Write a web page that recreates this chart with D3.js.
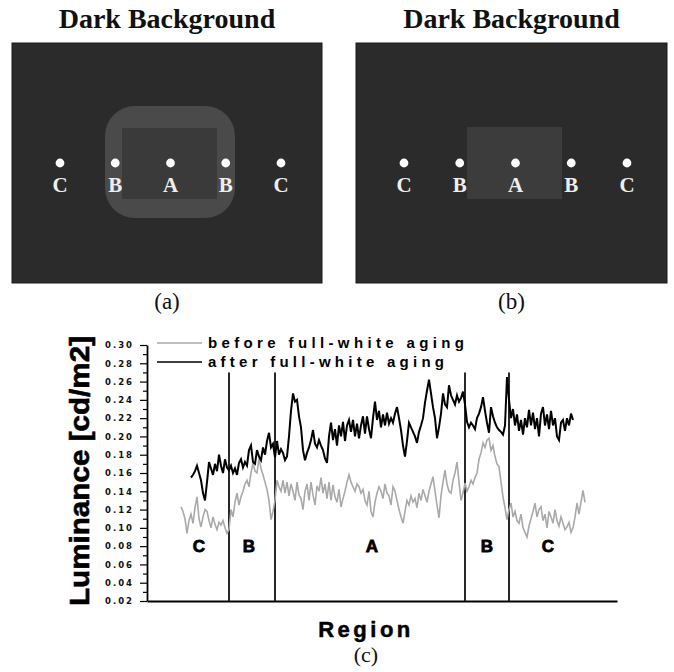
<!DOCTYPE html>
<html>
<head>
<meta charset="utf-8">
<script src="https://cdn.jsdelivr.net/npm/d3@7"></script>
<style>
  html, body { margin: 0; padding: 0; background: #fff; }
  svg { display: block; }
</style>
</head>
<body>
<svg id="fig" width="674" height="672"></svg>
<script>
// ---- data ----
const spotLabels = ["C", "B", "A", "B", "C"];
const regionNames = ["C", "B", "A", "B", "C"];
// region centres and borders in sample-position units (one unit = one sample step)
const regionCenters = [26, 51, 112.5, 170, 200.5];
const regionBorders = [41, 64, 159, 181];
const yTicks = [0.30, 0.28, 0.26, 0.24, 0.22, 0.20, 0.18, 0.16, 0.14, 0.12, 0.10, 0.08, 0.06, 0.04, 0.02];
const seriesNames = ["before full-white aging", "after full-white aging"];

// luminance [cd/m2] along the scan line, one value per sample position
const afterStart = 22;
const afterValues = [
  0.155, 0.158, 0.162, 0.168, 0.160, 0.152, 0.138, 0.130, 0.150, 0.172,
  0.165, 0.158, 0.170, 0.162, 0.180, 0.168, 0.160, 0.175, 0.166, 0.163,
  0.168, 0.160, 0.165, 0.158, 0.171, 0.175, 0.166, 0.172, 0.168, 0.185,
  0.190, 0.172, 0.170, 0.185, 0.178, 0.174, 0.188, 0.180, 0.195, 0.204,
  0.188, 0.192, 0.177, 0.195, 0.180, 0.186, 0.182, 0.174, 0.178, 0.200,
  0.228, 0.247, 0.238, 0.240, 0.222, 0.210, 0.185, 0.174, 0.182, 0.188,
  0.196, 0.207, 0.192, 0.188, 0.196, 0.190, 0.185, 0.176, 0.171, 0.200,
  0.215, 0.196, 0.208, 0.190, 0.212, 0.200, 0.216, 0.195, 0.212, 0.218,
  0.205, 0.218, 0.200, 0.214, 0.198, 0.212, 0.222, 0.203, 0.222, 0.208,
  0.198, 0.220, 0.238, 0.218, 0.228, 0.210, 0.224, 0.212, 0.226, 0.214,
  0.220, 0.215, 0.225, 0.232, 0.220, 0.207, 0.190, 0.178, 0.195, 0.215,
  0.210, 0.205, 0.200, 0.193, 0.205, 0.212, 0.220, 0.237, 0.250, 0.262,
  0.247, 0.232, 0.220, 0.198, 0.210, 0.225, 0.247, 0.235, 0.232, 0.256,
  0.245, 0.240, 0.235, 0.245, 0.238, 0.242, 0.249, 0.235, 0.216, 0.210,
  0.215, 0.212, 0.208, 0.220, 0.225, 0.232, 0.243, 0.228, 0.215, 0.204,
  0.232, 0.222, 0.215, 0.210, 0.207, 0.205, 0.202, 0.212, 0.265, 0.240,
  0.220, 0.230, 0.212, 0.224, 0.206, 0.218, 0.202, 0.220, 0.210, 0.229,
  0.212, 0.226, 0.208, 0.220, 0.200, 0.225, 0.232, 0.212, 0.224, 0.208,
  0.228, 0.212, 0.220, 0.200, 0.196, 0.215, 0.218, 0.206, 0.220, 0.212,
  0.225, 0.218
];
const beforeStart = 17;
const beforeValues = [
  0.123, 0.118, 0.110, 0.094, 0.108, 0.115, 0.105, 0.122, 0.134, 0.110,
  0.101, 0.112, 0.120, 0.118, 0.108, 0.100, 0.112, 0.104, 0.098, 0.106,
  0.103, 0.108, 0.100, 0.094, 0.098, 0.120, 0.112, 0.128, 0.138, 0.125,
  0.134, 0.140, 0.148, 0.152, 0.145, 0.160, 0.171, 0.162, 0.160, 0.176,
  0.165, 0.158, 0.150, 0.142, 0.130, 0.109, 0.118, 0.130, 0.152, 0.145,
  0.140, 0.152, 0.138, 0.150, 0.135, 0.148, 0.140, 0.130, 0.150, 0.136,
  0.132, 0.120, 0.140, 0.148, 0.130, 0.150, 0.136, 0.125, 0.146, 0.140,
  0.155, 0.138, 0.148, 0.132, 0.150, 0.130, 0.147, 0.134, 0.128, 0.142,
  0.123, 0.132, 0.140, 0.150, 0.158, 0.150, 0.145, 0.140, 0.148, 0.145,
  0.138, 0.142, 0.130, 0.125, 0.140, 0.118, 0.112, 0.128, 0.138, 0.145,
  0.140, 0.132, 0.148, 0.138, 0.135, 0.125, 0.145, 0.140, 0.130, 0.120,
  0.112, 0.105, 0.118, 0.130, 0.125, 0.135, 0.128, 0.132, 0.122, 0.138,
  0.130, 0.142, 0.135, 0.128, 0.140, 0.148, 0.156, 0.140, 0.125, 0.111,
  0.135, 0.150, 0.163, 0.148, 0.140, 0.138, 0.152, 0.160, 0.172, 0.150,
  0.130, 0.138, 0.149, 0.140, 0.145, 0.152, 0.148, 0.155, 0.160, 0.175,
  0.182, 0.193, 0.188, 0.196, 0.198, 0.185, 0.190, 0.178, 0.170, 0.167,
  0.150, 0.134, 0.122, 0.109, 0.120, 0.127, 0.112, 0.118, 0.108, 0.105,
  0.115, 0.100, 0.095, 0.090, 0.102, 0.110, 0.118, 0.127, 0.112, 0.120,
  0.123, 0.108, 0.115, 0.100, 0.118, 0.112, 0.105, 0.120, 0.108, 0.102,
  0.112, 0.105, 0.098, 0.101, 0.106, 0.095, 0.100, 0.112, 0.127, 0.115,
  0.128, 0.141, 0.128
];

// ---- drawing ----
const svg = d3.select("#fig");
const serif = "'Liberation Serif', 'Times New Roman', serif";
const sans = "'Liberation Sans', Arial, sans-serif";

// Panels (a) and (b): measurement spots on a dark screen
const panels = [
  { tag: "(a)", x0: 12, x1: 322, spots: [60, 281], halo: true, box: [122, 128, 217, 199] },
  { tag: "(b)", x0: 356, x1: 667, spots: [404, 627], halo: false, box: [467, 127, 562, 199] }
];
const panelTop = 43, panelBottom = 283, spotY = 163;

panels.forEach(p => {
  const g = svg.append("g");
  const cx = (p.x0 + p.x1) / 2;
  g.append("text").attr("x", cx).attr("y", 28).attr("text-anchor", "middle")
    .attr("font-family", serif).attr("font-weight", "bold").attr("font-size", 28)
    .attr("fill", "#111").text("Dark Background");
  g.append("rect").attr("x", p.x0).attr("y", panelTop)
    .attr("width", p.x1 - p.x0).attr("height", panelBottom - panelTop)
    .attr("fill", "#2b2b2b").attr("stroke", "#1a1a1a").attr("stroke-width", 1);
  if (p.halo) {
    g.append("rect").attr("x", 105).attr("y", 106).attr("width", 130).attr("height", 112)
      .attr("rx", 30).attr("ry", 30).attr("fill", "#4a4a4a");
  }
  const [bx0, by0, bx1, by1] = p.box;
  g.append("rect").attr("x", bx0).attr("y", by0).attr("width", bx1 - bx0).attr("height", by1 - by0)
    .attr("fill", p.halo ? "#3a3a3a" : "#3c3c3c");
  const sx = d3.scalePoint().domain(d3.range(spotLabels.length)).range(p.spots);
  spotLabels.forEach((lab, i) => {
    g.append("circle").attr("cx", sx(i)).attr("cy", spotY).attr("r", 4.4).attr("fill", "#fff");
    g.append("text").attr("x", sx(i)).attr("y", 192).attr("text-anchor", "middle")
      .attr("font-family", serif).attr("font-weight", "bold").attr("font-size", 21)
      .attr("fill", "#eee").text(lab);
  });
  g.append("text").attr("x", cx).attr("y", 309).attr("text-anchor", "middle")
    .attr("font-family", serif).attr("font-size", 23).attr("fill", "#111").text(p.tag);
});

// Panel (c): luminance profile
const x = d3.scaleLinear().domain([0, 235]).range([147, 617]);
const y = d3.scaleLinear().domain([0.02, 0.30]).range([601, 345]);

const chart = svg.append("g");

// minor ticks halfway between labelled ticks
const minorTicks = d3.range(0.03, 0.30, 0.02).map(v => +v.toFixed(2));
chart.append("g").attr("transform", `translate(${x(0)},0)`)
  .call(d3.axisLeft(y).tickValues(minorTicks).tickSize(4).tickSizeOuter(0).tickFormat(""))
  .call(g => g.select(".domain").remove())
  .call(g => g.selectAll("line").attr("stroke", "#000").attr("stroke-width", 1.2));

chart.append("g").attr("transform", `translate(${x(0)},0)`)
  .call(d3.axisLeft(y).tickValues(yTicks).tickSize(7).tickSizeOuter(0).tickPadding(6)
    .tickFormat(d3.format(".2f")))
  .call(g => g.select(".domain").attr("stroke", "#000").attr("stroke-width", 1.8))
  .call(g => g.selectAll("line").attr("stroke", "#000").attr("stroke-width", 1.2))
  .call(g => g.selectAll("text").attr("font-family", "'DejaVu Sans', sans-serif")
    .attr("font-weight", "bold").attr("font-size", 8.5).attr("letter-spacing", 2)
    .attr("fill", "#111"));

chart.append("g").attr("transform", `translate(0,${y(0.02)})`)
  .call(d3.axisBottom(x).tickValues([]).tickSizeOuter(0))
  .call(g => g.select(".domain").attr("stroke", "#000").attr("stroke-width", 1.8));

// region borders
chart.selectAll("line.border").data(regionBorders).join("line").attr("class", "border")
  .attr("x1", d => x(d)).attr("x2", d => x(d))
  .attr("y1", y(0.02)).attr("y2", y(0.27))
  .attr("stroke", "#111").attr("stroke-width", 1.8);

// region names
chart.selectAll("text.region").data(regionNames).join("text").attr("class", "region")
  .attr("x", (d, i) => x(regionCenters[i])).attr("y", y(0.08))
  .attr("dy", "0.36em").attr("text-anchor", "middle")
  .attr("font-family", sans).attr("font-weight", "bold").attr("font-size", 17)
  .attr("stroke", "#000").attr("stroke-width", 0.8)
  .attr("fill", "#000").text(d => d);

const line = d3.line().x(d => x(d[0])).y(d => y(d[1]));
const beforePts = beforeValues.map((v, i) => [beforeStart + i, v]);
const afterPts = afterValues.map((v, i) => [afterStart + i, v]);

chart.append("path").datum(beforePts).attr("d", line)
  .attr("fill", "none").attr("stroke", "#a9a9a9").attr("stroke-width", 1.6)
  .attr("stroke-linejoin", "miter");
chart.append("path").datum(afterPts).attr("d", line)
  .attr("fill", "none").attr("stroke", "#000").attr("stroke-width", 2)
  .attr("stroke-linejoin", "miter");

// legend
const legend = [
  { name: seriesNames[0], color: "#a9a9a9", y: 343, len: 256 },
  { name: seriesNames[1], color: "#000", y: 362, len: 236 }
];
legend.forEach(l => {
  chart.append("line").attr("x1", 157).attr("x2", 202).attr("y1", l.y).attr("y2", l.y)
    .attr("stroke", l.color).attr("stroke-width", 1.4);
  chart.append("text").attr("x", 208).attr("y", l.y + 5)
    .attr("font-family", sans).attr("font-weight", "bold").attr("font-size", 15)
    .attr("textLength", l.len).attr("lengthAdjust", "spacing")
    .attr("fill", "#000").text(l.name);
});

// axis titles
svg.append("text").attr("transform", `translate(89,${(345 + 607) / 2 - 5}) rotate(-90)`)
  .attr("text-anchor", "middle").attr("font-family", sans).attr("font-weight", "bold")
  .attr("font-size", 27).attr("textLength", 270).attr("lengthAdjust", "spacingAndGlyphs")
  .attr("stroke", "#000").attr("stroke-width", 0.6)
  .attr("fill", "#000").text("Luminance [cd/m2]");

svg.append("text").attr("x", 366).attr("y", 637).attr("text-anchor", "middle")
  .attr("font-family", sans).attr("font-weight", "bold").attr("font-size", 22)
  .attr("letter-spacing", 3.5).attr("stroke", "#000").attr("stroke-width", 0.5)
  .attr("fill", "#000").text("Region");

svg.append("text").attr("x", 366).attr("y", 662).attr("text-anchor", "middle")
  .attr("font-family", serif).attr("font-size", 22).attr("fill", "#111").text("(c)");
</script>
</body>
</html>
